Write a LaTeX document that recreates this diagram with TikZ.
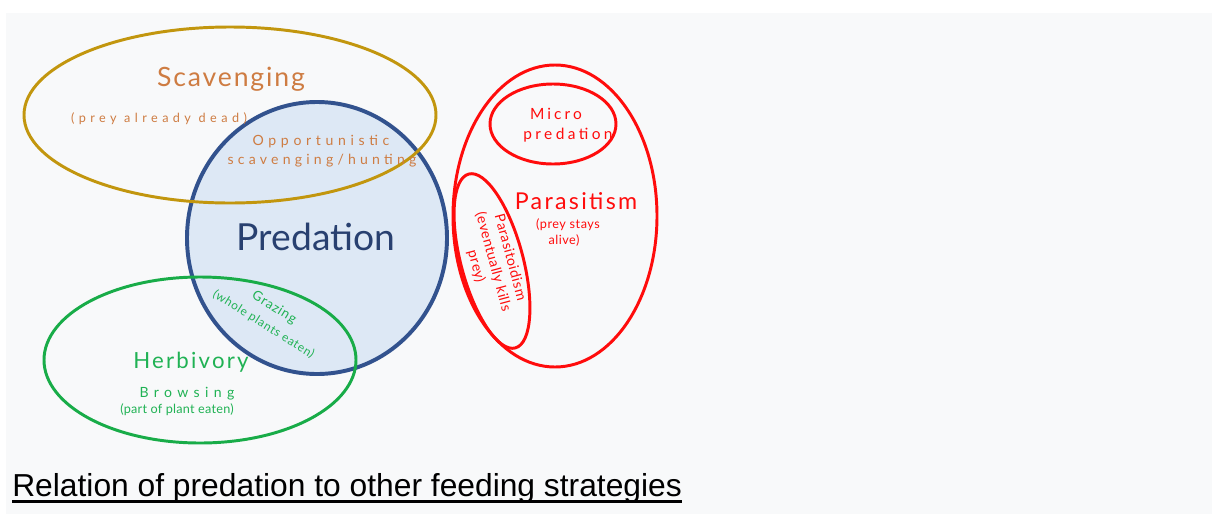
\documentclass[tikz,border=0pt]{standalone}
\usepackage{fontspec}
\setmainfont{Lato}
\newfontfamily\captionfont{Liberation Sans}

\definecolor{bggray}{RGB}{248,249,250}
\definecolor{scavgold}{RGB}{194,150,14}
\definecolor{scavtext}{RGB}{206,124,66}
\definecolor{predblue}{RGB}{50,82,142}
\definecolor{predfill}{RGB}{221,232,245}
\definecolor{predtext}{RGB}{40,64,112}
\definecolor{parared}{RGB}{255,12,12}
\definecolor{herbgreen}{RGB}{24,172,72}
\definecolor{herbtext}{RGB}{32,178,84}

\newcommand{\fsz}[3]{\fontsize{#1}{#2}\selectfont\addfontfeature{LetterSpace=#3}}

\tikzset{
    lbl/.style={inner sep=0pt, anchor=base},
    ring/.style={line width=2.1pt},
}

\begin{document}
\begin{tikzpicture}[x=0.025cm, y=-0.025cm]
    \useasboundingbox (0,0) rectangle (1212,514);
    %Hintergrund
    \fill[bggray] (6,13) rectangle (1212,514);

    %Kreise
    \draw[predblue, line width=2.8pt, fill=predfill] (317,238) ellipse [x radius=130, y radius=136];
    \draw[scavgold, ring] (230,115) ellipse [x radius=206, y radius=88];
    \draw[herbgreen, ring] (200,360) ellipse [x radius=156, y radius=83];
    \draw[parared, ring] (555,216) ellipse [x radius=102, y radius=151];
    \draw[parared, ring] (553,124) ellipse [x radius=63, y radius=40];
    \draw[parared, ring, rotate around={-75:(492,261)}] (492,261) ellipse [x radius=90, y radius=31];

    %Beschriftung
    \node[lbl, scavtext, font=\fsz{18.9}{22}{7}] (scav) at (231,86) {Scavenging};
    \node[lbl, scavtext, font=\fsz{9}{11}{35}] (scavdead) at (159,122) {(prey already dead)};
    \node[lbl, scavtext, font=\fsz{10}{12}{33}] (opport) at (321,145) {Opportunistic};
    \node[lbl, scavtext, font=\fsz{10}{12}{30}] (opporthunt) at (322,164) {scavenging/hunting};
    \node[lbl, predtext, font=\fsz{26.5}{30}{0}] (pred) at (316,250) {Predation};
    \node[lbl, parared, font=\fsz{11}{13}{20}] (micro) at (556,119) {Micro};
    \node[lbl, parared, font=\fsz{11}{13}{22}] (micropred) at (568,139) {predation};
    \node[lbl, parared, font=\fsz{16.5}{19}{10}] (para) at (576,209) {Parasitism};
    \node[lbl, parared, font=\fsz{9}{11}{4}] (paraalive) at (568,228) {(prey stays};
    \node[lbl, parared, font=\fsz{9}{11}{4}] (paraalive2) at (564,244) {alive)};
    \node[parared, inner sep=0pt, align=center, rotate=-75, font=\fsz{10}{12.5}{4}] (paratoid) at (493,262)
        {Parasitoidism\\(eventually kills\\prey)};
    \node[lbl, herbtext, font=\fsz{15.8}{19}{10}] (herb) at (191,368) {Herbivory};
    \node[lbl, herbtext, font=\fsz{10}{12}{38}] (browse) at (187,397) {Browsing};
    \node[lbl, herbtext, font=\fsz{9}{11}{2}] (browsepart) at (177,413) {(part of plant eaten)};
    \node[herbtext, inner sep=0pt, align=center, rotate=-32, font=\fsz{9.5}{14}{6}] (graze) at (269,316)
        {Grazing\\{\fsz{8.5}{14}{6}(whole plants eaten)}};

    %Bildunterschrift
    \node[inner sep=0pt, anchor=base west, font=\captionfont\fontsize{22.6}{26}\selectfont] (caption) at (12,496)
        {Relation of predation to other feeding strategies};
    \draw[line width=2.2pt] ([yshift=-3.6pt]caption.base west) -- ([yshift=-3.6pt]caption.base east);
\end{tikzpicture}
\end{document}
